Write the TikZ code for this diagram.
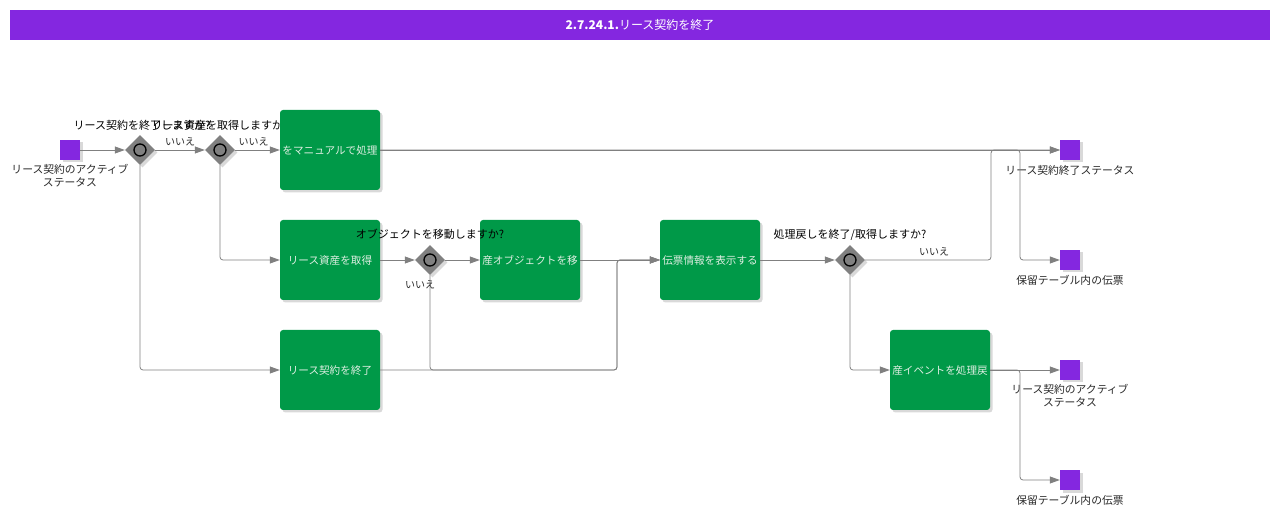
\documentclass[tikz,border=0pt]{standalone}
\usepackage{fontspec}
\setmainfont{Noto Sans CJK JP}
\usetikzlibrary{shapes.geometric,shadows,arrows.meta}
\definecolor{bpmnpurple}{RGB}{132,39,224}
\definecolor{bpmngreen}{RGB}{0,153,72}
\definecolor{bpmngray}{RGB}{128,128,128}
\definecolor{tasktext}{RGB}{222,238,226}
\definecolor{lbltext}{RGB}{40,40,40}
\tikzset{
	shade/.style={drop shadow={shadow xshift=2.5pt,shadow yshift=-2.5pt,opacity=0.3}},
	task/.style={rectangle,rounded corners=3pt,fill=bpmngreen,text=tasktext,minimum width=100pt,minimum height=80pt,inner sep=1pt,font=\fontsize{10.6}{12}\selectfont,shade},
	gate/.style={diamond,fill=bpmngray,minimum width=30pt,minimum height=30pt,inner sep=0pt,shade,
		path picture={\draw[black,line width=1.3pt,fill=bpmngray] (path picture bounding box.center) circle (6pt);}},
	evt/.style={rectangle,fill=bpmnpurple,minimum size=20pt,inner sep=0pt,shade},
	lbl/.style={text=lbltext,align=center,inner sep=0pt,font=\fontsize{10.8}{13}\selectfont},
	glbl/.style={text=black,inner sep=0pt,font=\fontsize{11}{12}\selectfont},
	no/.style={text=lbltext,inner sep=0pt,font=\fontsize{10}{11}\selectfont},
	flow/.style={draw=bpmngray,line width=0.8pt,rounded corners=3pt,-{Triangle[length=10pt,width=7pt]}}
}
\begin{document}
\begin{tikzpicture}[x=1pt,y=-1pt]
	\useasboundingbox (0,0) rectangle (1280,518);
	\node [fill=bpmnpurple,minimum width=1260pt,minimum height=30pt,inner sep=0pt,text=white,font=\fontsize{12}{14}\selectfont] (title) at (640,25) {\textbf{2.7.24.1.}リース契約を終了};

	\node [glbl] (g1l) at (142,125) {リース契約を終了しますか?};
	\node [glbl] (g2l) at (220,125) {リース資産を取得しますか?};
	\node [glbl] (g5l) at (850,235) {処理戻しを終了/取得しますか?};

	\node [evt] (s1) at (70,150) {};
	\node [lbl] (s1l) at (70,176) {リース契約のアクティブ\\ステータス};
	\node [gate] (g1) at (140,150) {};
	\node [gate] (g2) at (220,150) {};
	\node [task] (t1) at (330,150) {をマニュアルで処理};
	\node [task] (t2) at (330,260) {リース資産を取得};
	\node [task] (t3) at (330,370) {リース契約を終了};
	\node [gate] (g4) at (430,260) {};
	\node [task] (t4) at (530,260) {産オブジェクトを移};
	\node [task] (t5) at (710,260) {伝票情報を表示する};
	\node [gate] (g5) at (850,260) {};
	\node [task] (t6) at (940,370) {産イベントを処理戻};
	\node [glbl] (g4l) at (430,234) {オブジェクトを移動しますか?};

	\node [evt] (e1) at (1070,150) {};
	\node [lbl] (e1l) at (1070,170) {リース契約終了ステータス};
	\node [evt] (e2) at (1070,260) {};
	\node [lbl] (e2l) at (1070,280) {保留テーブル内の伝票};
	\node [evt] (e3) at (1070,370) {};
	\node [lbl] (e3l) at (1070,396) {リース契約のアクティブ\\ステータス};
	\node [evt] (e4) at (1070,480) {};
	\node [lbl] (e4l) at (1070,500) {保留テーブル内の伝票};

	\coordinate (j1) at (617,370);
	\coordinate (j2) at (991,260);
	\coordinate (j3) at (1020,150);
	\coordinate (j4) at (1020,370);

	\draw [flow] (s1) -- (g1);
	\draw [flow] (g1) -- node [no,above=4pt] {いいえ} (g2);
	\draw [flow] (g2) -- node [no,above=4pt,xshift=-4pt] {いいえ} (t1);
	\draw [flow] (g1) |- (t3);
	\draw [flow] (g2) |- (t2);
	\draw [flow] (t2) -- (g4);
	\draw [flow] (g4) -- (t4);
	\draw [flow] (g4) |- (j1) |- (t5);
	\node [no] (g4no) at (420,285) {いいえ};
	\draw [flow] (t3) -- (j1) |- (t5);
	\draw [flow] (t4) -- (t5);
	\draw [flow] (t5) -- (g5);
	\draw [flow] (g5) -- node [no,above=4pt,xshift=6pt] {いいえ} (j2) |- (e1);
	\draw [flow] (g5) |- (t6);
	\draw [flow] (t1) -- (e1);
	\draw [flow] (t1) -- (j3) |- (e2);
	\draw [flow] (t6) -- (e3);
	\draw [flow] (t6) -- (j4) |- (e4);
\end{tikzpicture}
\end{document}
